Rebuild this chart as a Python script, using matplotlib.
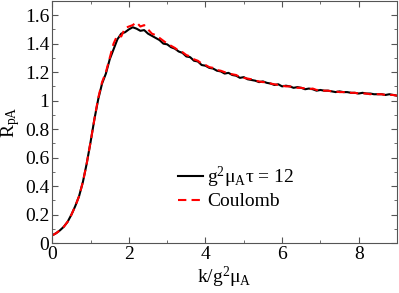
import matplotlib

matplotlib.use("Agg")
import matplotlib.pyplot as plt
from matplotlib.ticker import FuncFormatter, MultipleLocator

plt.rcParams["font.family"] = ["Liberation Serif", "DejaVu Serif"]
plt.rcParams["mathtext.fontset"] = "custom"
plt.rcParams["mathtext.rm"] = "Liberation Serif"
plt.rcParams["mathtext.it"] = "Liberation Serif"

# k / g^2 mu_A, step 0.1 from 0 to 9
k = [round(0.1 * i, 1) for i in range(91)]

# g^2 mu_A tau = 12 (black)
r_tau12 = [
    0.055, 0.07, 0.09, 0.115, 0.15, 0.20, 0.26, 0.33, 0.43, 0.56,
    0.71, 0.87, 1.01, 1.12, 1.19, 1.29, 1.36, 1.43, 1.47, 1.48,
    1.50, 1.515, 1.505, 1.49, 1.495, 1.47, 1.455, 1.44, 1.425, 1.40,
    1.395, 1.375, 1.365, 1.345, 1.335, 1.31, 1.305, 1.28, 1.275, 1.25,
    1.245, 1.23, 1.225, 1.21, 1.205, 1.19, 1.195, 1.18, 1.175, 1.16,
    1.165, 1.15, 1.145, 1.14, 1.13, 1.135, 1.125, 1.12, 1.11, 1.115,
    1.10, 1.105, 1.10, 1.09, 1.095, 1.09, 1.08, 1.085, 1.08, 1.07,
    1.075, 1.07, 1.07, 1.065, 1.06, 1.065, 1.06, 1.06, 1.055, 1.055,
    1.05, 1.055, 1.05, 1.05, 1.045, 1.045, 1.045, 1.04, 1.045, 1.04,
    1.035,
]

# Coulomb (red dashed)
r_coulomb = [
    0.055, 0.07, 0.09, 0.115, 0.15, 0.20, 0.26, 0.33, 0.43, 0.56,
    0.71, 0.87, 1.02, 1.13, 1.20, 1.30, 1.40, 1.46, 1.45, 1.51,
    1.52, 1.53, 1.55, 1.52, 1.53, 1.50, 1.47, 1.46, 1.44, 1.42,
    1.40, 1.385, 1.37, 1.35, 1.34, 1.32, 1.31, 1.29, 1.28, 1.26,
    1.25, 1.235, 1.23, 1.215, 1.21, 1.20, 1.19, 1.185, 1.18, 1.165,
    1.16, 1.155, 1.15, 1.14, 1.135, 1.13, 1.13, 1.12, 1.115, 1.11,
    1.105, 1.10, 1.10, 1.095, 1.09, 1.09, 1.085, 1.08, 1.085, 1.075,
    1.075, 1.07, 1.07, 1.065, 1.065, 1.06, 1.06, 1.06, 1.055, 1.055,
    1.05, 1.05, 1.05, 1.045, 1.05, 1.045, 1.045, 1.04, 1.04, 1.04,
    1.035,
]

fig = plt.figure(figsize=(3.99, 2.93), dpi=100)
ax = fig.add_axes([0.131, 0.170, 0.864, 0.827])

ax.plot(k, r_tau12, color="black", lw=1.5, label=r"$\mathrm{g^2\mu_A\tau}$ = 12")
ax.plot(k, r_coulomb, color="red", lw=1.5, dashes=(4, 2.5), label="Coulomb")

ax.set_xlim(0, 9)
ax.set_ylim(0, 1.7)
ax.xaxis.set_major_locator(MultipleLocator(2))
ax.xaxis.set_minor_locator(MultipleLocator(1))
ax.yaxis.set_major_locator(MultipleLocator(0.2))
ax.yaxis.set_minor_locator(MultipleLocator(0.1))
ax.yaxis.set_major_formatter(FuncFormatter(lambda v, _: f"{v:g}"))
ax.xaxis.set_major_formatter(FuncFormatter(lambda v, _: f"{v:g}"))

ax.tick_params(which="both", direction="in", top=True, right=True, color="#555555",
               labelsize=14, pad=2)
ax.tick_params(which="major", length=4)
ax.tick_params(which="minor", length=2.5)
for s in ax.spines.values():
    s.set_color("#555555")

ax.set_xlabel(r"$\mathrm{k/g^2\mu_A}$", fontsize=14, labelpad=1)
ax.set_ylabel(r"$\mathrm{R_{pA}}$", fontsize=14, labelpad=2)

ax.legend(loc="center left", bbox_to_anchor=(0.365, 0.23), frameon=False, fontsize=14,
          handlelength=1.3, handletextpad=0.2, labelspacing=0.15,
          borderaxespad=0, borderpad=0)

fig.savefig("out.png", dpi=100)
